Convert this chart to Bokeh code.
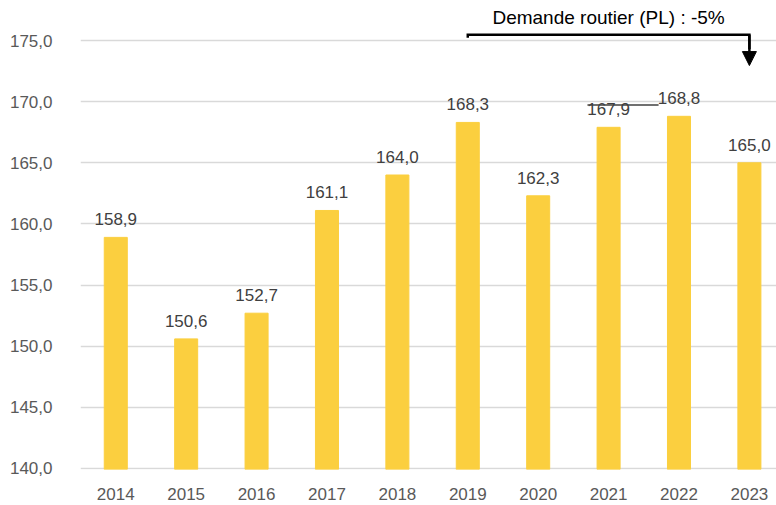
from bokeh.plotting import figure
from bokeh.models import ColumnDataSource, FixedTicker, Range1d, Arrow, NormalHead, Label
from bokeh.core.properties import value
from bokeh.embed import file_html
from bokeh.resources import INLINE

years = [2014, 2015, 2016, 2017, 2018, 2019, 2020, 2021, 2022, 2023]
values = [158.9, 150.6, 152.7, 161.1, 164.0, 168.3, 162.3, 167.9, 168.8, 165.0]
labels = ["158,9", "150,6", "152,7", "161,1", "164,0", "168,3", "162,3", "167,9", "168,8", "165,0"]
y_ticks = [140, 145, 150, 155, 160, 165, 170, 175]
y_tick_labels = ["140,0", "145,0", "150,0", "155,0", "160,0", "165,0", "170,0", "175,0"]
annotation_text = "Demande routier (PL) : -5%"
annot_from, annot_to = 2019, 2023

FONT = "Liberation Sans"

src = ColumnDataSource(dict(x=years, top=values, label=labels))

p = figure(width=776, height=505, output_backend="svg", toolbar_location=None,
           x_range=Range1d(2013.499, 2023.385), y_range=Range1d(139.918, 177.617),
           min_border_left=80, min_border_right=0, min_border_top=8, min_border_bottom=36)
p.outline_line_color = None
p.background_fill_color = "white"
p.border_fill_color = "white"

p.vbar(x="x", top="top", bottom=139.918, width=0.327, color="#FBCF3F", source=src)

p.text(x="x", y="top", text="label", source=src, y_offset=-18,
       text_align="center", text_baseline="alphabetic",
       text_font=value(FONT), text_font_size="17px", text_color="#404040")

# axes
p.xaxis.ticker = FixedTicker(ticks=years)
p.xaxis.major_label_overrides = {y: str(y) for y in years}
p.yaxis.ticker = FixedTicker(ticks=y_ticks)
p.yaxis.major_label_overrides = {t: l for t, l in zip(y_ticks, y_tick_labels)}
for ax in (p.xaxis, p.yaxis):
    ax.axis_line_color = None
    ax.major_tick_line_color = None
    ax.minor_tick_line_color = None
    ax.major_label_text_font = FONT
    ax.major_label_text_font_size = "17px"
    ax.major_label_text_color = "#595959"
p.yaxis.major_label_standoff = 22
p.xaxis.major_label_standoff = 12

p.xgrid.grid_line_color = None
p.ygrid.ticker = FixedTicker(ticks=y_ticks)
p.ygrid.grid_line_color = "#d9d9d9"
p.ygrid.grid_line_width = 1.5

# stray dark line near 2021 label
p.line(x=[2020.70, 2021.71], y=[169.72, 169.72], line_color="#404040", line_width=1.5)

# bracket + arrow
p.line(x=[annot_from, annot_from, annot_to, annot_to], y=[175.22, 175.47, 175.47, 174.3],
       line_color="black", line_width=2.5, line_join="miter")
p.add_layout(Arrow(end=NormalHead(size=14, fill_color="black", line_color="black"),
                   x_start=annot_to, y_start=175.47, x_end=annot_to, y_end=172.95,
                   line_color="black", line_width=2.5))
p.add_layout(Label(x=2021, y=176.88, text=annotation_text, text_align="center",
                   text_baseline="middle", text_font=FONT, text_font_size="19px",
                   text_color="black"))

open("out.html", "w").write(file_html(p, INLINE))
